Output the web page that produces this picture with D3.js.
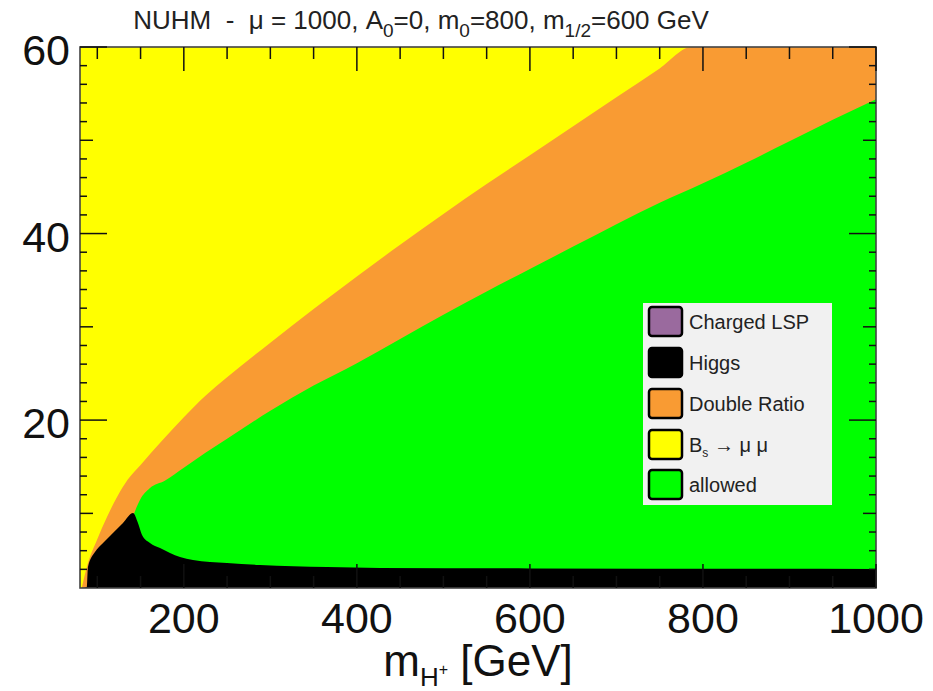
<!DOCTYPE html>
<html>
<head>
<meta charset="utf-8">
<script src="https://cdn.jsdelivr.net/npm/d3@7"></script>
<style>
  body { margin: 0; background: #fff; }
  text { font-family: "Liberation Sans", Arial, sans-serif; white-space: pre; }
</style>
</head>
<body>
<svg id="chart" width="933" height="691"></svg>
<script>
// NUHM scan in the (m_H+, tan beta) plane: boundaries of the excluded regions.

// Upper edge of the Double Ratio band (B_s -> mu mu excluded above it)
const bsmmMass = [82, 89.2, 99.6, 111.2, 122.8, 135, 150, 175, 200, 225, 250, 300, 350, 400, 450, 500, 550, 600, 650, 700, 750, 787];
const bsmmTanb = [2.0, 4.68, 7.15, 9.61, 11.76, 13.6, 15.2, 17.8, 20.3, 22.6, 24.6, 28.3, 31.9, 35.4, 38.8, 42.1, 45.3, 48.4, 51.5, 54.6, 57.7, 60];

// Upper edge of the allowed region (Double Ratio excluded above it)
const ratioMass = [142.5, 149.3, 160.9, 178, 200, 225, 250, 300, 350, 400, 450, 500, 550, 600, 650, 700, 750, 800, 850, 900, 950, 1000];
const ratioTanb = [10.0, 11.44, 12.72, 13.5, 14.9, 16.5, 18.0, 21.0, 23.7, 26.1, 28.7, 31.3, 33.8, 36.2, 38.6, 41.0, 43.3, 45.4, 47.6, 49.9, 52.2, 54.4];

// Upper edge of the Higgs-excluded region
const higgsMass = [82, 88, 89.2, 97.3, 106.6, 118.1, 129.7, 141.3, 147, 151.7, 160.9, 172.5, 195.6, 210.6, 249.9, 288, 365.5, 426.7, 600, 1000];
const higgsTanb = [2.0, 2.1, 4.25, 5.86, 6.83, 7.9, 8.97, 10.04, 8.97, 7.68, 6.83, 6.29, 5.32, 5.0, 4.68, 4.47, 4.25, 4.15, 4.1, 4.04];

const xTickValues = [200, 400, 600, 800, 1000];
const yTickValues = [20, 40, 60];

const legendLabels = ["Charged LSP", "Higgs", "Double Ratio", "Bs", "allowed"];
const legendColors = ["#9a6a9e", "#000000", "#f99b33", "#ffff00", "#00ff00"];

const colYellow = "#ffff00", colOrange = "#f99b33", colGreen = "#00ff00", colBlack = "#000000";

const svg = d3.select("#chart");
const plot = { left: 80, right: 876, top: 47, bottom: 588 };

const x = d3.scaleLinear().domain([80, 1000]).range([plot.left, plot.right]);
const y = d3.scaleLinear().domain([2, 60]).range([plot.bottom, plot.top]);

svg.append("defs").append("clipPath").attr("id", "plotClip")
  .append("rect")
  .attr("x", plot.left).attr("y", plot.top)
  .attr("width", plot.right - plot.left).attr("height", plot.bottom - plot.top);

const regions = svg.append("g").attr("clip-path", "url(#plotClip)");

// B_s -> mu mu excluded: whole plane underneath the other regions
regions.append("rect")
  .attr("x", plot.left).attr("y", plot.top)
  .attr("width", plot.right - plot.left).attr("height", plot.bottom - plot.top)
  .attr("fill", colYellow);

const zip = (ms, ts) => ms.map((m, i) => [m, ts[i]]);
const area = d3.area()
  .x(d => x(d[0]))
  .y0(y(y.domain()[0]))
  .y1(d => y(d[1]))
  .curve(d3.curveMonotoneX);

// Double Ratio band: below the B_s boundary, running to the top of the frame past its end
const orangePts = zip(bsmmMass, bsmmTanb).concat([[x.domain()[1], y.domain()[1]]]);
regions.append("path").datum(orangePts).attr("d", area).attr("fill", colOrange);

// Allowed region
regions.append("path").datum(zip(ratioMass, ratioTanb)).attr("d", area).attr("fill", colGreen);

// Higgs excluded
regions.append("path").datum(zip(higgsMass, higgsTanb)).attr("d", area).attr("fill", colBlack);

// Frame
svg.append("rect")
  .attr("x", plot.left).attr("y", plot.top)
  .attr("width", plot.right - plot.left).attr("height", plot.bottom - plot.top)
  .attr("fill", "none").attr("stroke", "#444").attr("stroke-width", 1.6);

// Ticks on all four sides, pointing inwards
const ticks = svg.append("g").attr("stroke", "#111").attr("stroke-width", 1.5);
d3.range(100, 1001, 50).forEach(v => {
  const len = v % 200 === 0 ? 24 : 12;
  const px = x(v);
  ticks.append("line").attr("x1", px).attr("x2", px).attr("y1", plot.top).attr("y2", plot.top + len);
  ticks.append("line").attr("x1", px).attr("x2", px).attr("y1", plot.bottom).attr("y2", plot.bottom - len);
});
d3.range(4, 61, 2).forEach(v => {
  const len = v % 20 === 0 ? 27 : (v % 10 === 0 ? 13 : 7);
  const py = y(v);
  ticks.append("line").attr("x1", plot.left).attr("x2", plot.left + len).attr("y1", py).attr("y2", py);
  ticks.append("line").attr("x1", plot.right).attr("x2", plot.right - len).attr("y1", py).attr("y2", py);
});

// Tick labels
svg.append("g").selectAll("text").data(xTickValues).join("text")
  .attr("x", d => x(d)).attr("y", 633)
  .attr("text-anchor", "middle").attr("font-size", 43).attr("fill", "#111")
  .text(d => d);
svg.append("g").selectAll("text").data(yTickValues).join("text")
  .attr("x", 70).attr("y", d => y(d) + 18)
  .attr("text-anchor", "end").attr("font-size", 43).attr("fill", "#111")
  .text(d => d);

// Axis title
const xt = svg.append("text").attr("x", 478).attr("y", 676)
  .attr("text-anchor", "middle").attr("font-size", 44).attr("fill", "#111");
xt.append("tspan").text("m");
xt.append("tspan").attr("font-size", 26).attr("dy", 10).text("H");
xt.append("tspan").attr("font-size", 16).attr("dy", -11).text("+");
xt.append("tspan").attr("dy", 1).text(" [GeV]");

// Plot title
const tt = svg.append("text").attr("x", 421).attr("y", 29)
  .attr("text-anchor", "middle").attr("font-size", 26).attr("fill", "#222");
const sub = (s) => { tt.append("tspan").attr("font-size", 19).attr("dy", 8).text(s); };
const main = (s, dy) => { tt.append("tspan").attr("dy", dy).text(s); };
main("NUHM  -  \u03bc = 1000, A", 0);
sub("0");
main("=0, m", -8);
sub("0");
main("=800, m", -8);
sub("1/2");
main("=600 GeV", -8);

// Legend
const lg = svg.append("g");
lg.append("rect").attr("x", 643).attr("y", 303).attr("width", 189).attr("height", 202).attr("fill", "#f1f1f1");
const rowY = [322, 363, 404, 445, 485];
legendLabels.forEach((lab, i) => {
  lg.append("rect")
    .attr("x", 649).attr("y", rowY[i] - 15).attr("width", 33).attr("height", 29)
    .attr("rx", 3).attr("fill", legendColors[i])
    .attr("stroke", "#000").attr("stroke-width", 2.5);
  const t = lg.append("text").attr("x", 689).attr("y", rowY[i] + 7)
    .attr("font-size", 20).attr("fill", "#222");
  if (lab === "Bs") {
    t.append("tspan").text("B");
    t.append("tspan").attr("font-size", 12).attr("dy", 5).text("s");
    t.append("tspan").attr("dy", -5).text(" \u2192 \u03bc \u03bc");
  } else {
    t.text(lab);
  }
});
</script>
</body>
</html>
